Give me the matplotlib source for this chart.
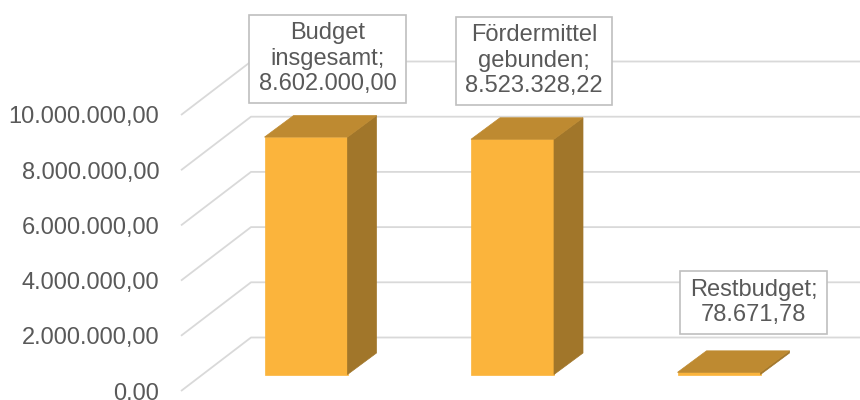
import matplotlib
matplotlib.use("Agg")
import matplotlib.pyplot as plt
from matplotlib.patches import Polygon, Rectangle
from matplotlib.transforms import IdentityTransform

# ---- data ----
categories = ["Budget\ninsgesamt", "Fördermittel\ngebunden", "Restbudget"]
values = [8602000.00, 8523328.22, 78671.78]
value_labels = ["8.602.000,00", "8.523.328,22", "78.671,78"]
yticks = [0, 2000000, 4000000, 6000000, 8000000, 10000000]
ytick_labels = ["0.00", "2.000.000,00", "4.000.000,00", "6.000.000,00",
                "8.000.000,00", "10.000.000,00"]

# ---- style / layout ----
FRONT = "#FBB43C"
TOP = "#BE8A31"
SIDE = "#A1762A"
GRID = "#D9D9D9"
TXT = "#595959"
FONT = ["Liberation Sans", "DejaVu Sans"]
FS = 17

W, H = 860, 400
PX = 1e6 / 27.6            # value units per pixel (vertical)
X0 = 181                   # front-left of plot floor (pixels)
Y0 = 391                   # pixel row of value 0 at floor front
FLOOR_DX, FLOOR_DY = 70, 53.5
BAR_W = 83
BAR_DX, BAR_DY = 29, 21.5
BAR_B0 = 16.5              # bar front bottom, pixels above floor front
centers = [306, 512.5, 719]
label_dx = [21.5, 21.5, 34.5]
PADX, PADY = 9.5, 7.5
label_gap = [13 + PADY, 13 + PADY, 17 + PADY]

fig = plt.figure(figsize=(W / 100, H / 100), dpi=100)
ax = fig.add_axes([X0 / W, 0, (W - X0) / W, 1])
ax.set_xlim(X0, W)
ax.set_ylim((Y0 - H) * PX, Y0 * PX)
for s in ax.spines.values():
    s.set_visible(False)
ax.set_xticks([])
ax.set_yticks(yticks, ytick_labels)
ax.tick_params(axis="y", length=0, pad=15.5)
for lab in ax.get_yticklabels():
    lab.set_fontfamily(FONT)
    lab.set_fontsize(FS)
    lab.set_color(TXT)

# gridlines: diagonal on the side wall, then horizontal on back wall
for t in yticks:
    ax.plot([X0, X0 + FLOOR_DX, W], [t, t + FLOOR_DY * PX, t + FLOOR_DY * PX],
            color=GRID, lw=1.3, zorder=1, solid_capstyle="butt", clip_on=False)

texts = []
for i, (c, v) in enumerate(zip(centers, values)):
    x0, x1 = c - BAR_W / 2, c + BAR_W / 2
    b = BAR_B0 * PX
    top = b + v
    dy = BAR_DY * PX
    front = Polygon([(x0, b), (x1, b), (x1, top), (x0, top)], closed=True,
                    facecolor=FRONT, edgecolor=FRONT, lw=0.5, zorder=3)
    side = Polygon([(x1, b), (x1 + BAR_DX, b + dy), (x1 + BAR_DX, top + dy), (x1, top)],
                   closed=True, facecolor=SIDE, edgecolor=SIDE, lw=0.5, zorder=3)
    topf = Polygon([(x0, top), (x1, top), (x1 + BAR_DX, top + dy), (x0 + BAR_DX, top + dy)],
                   closed=True, facecolor=TOP, edgecolor=TOP, lw=0.5, zorder=4)
    for p in (front, side, topf):
        ax.add_patch(p)
    txt = categories[i] + ";\n" + value_labels[i]
    t = ax.text(c + label_dx[i], top + dy + label_gap[i] * PX, txt, ha="center", va="bottom",
                multialignment="center", fontsize=FS, color=TXT, fontfamily=FONT,
                zorder=6)
    texts.append(t)

fig.canvas.draw()
r = fig.canvas.get_renderer()
for t in texts:
    bb = t.get_window_extent(r)
    rect = Rectangle((bb.x0 - PADX, bb.y0 - PADY), bb.width + 2 * PADX, bb.height + 2 * PADY,
                     transform=IdentityTransform(), facecolor="white", edgecolor="#BFBFBF",
                     lw=1.2, zorder=5)
    fig.add_artist(rect)
    t.remove()
    fig.text(bb.x0 + bb.width / 2, bb.y0, t.get_text(), transform=IdentityTransform(),
             ha="center", va="bottom", multialignment="center", fontsize=FS, color=TXT,
             fontfamily=FONT, zorder=7)

fig.savefig("out.png", dpi=100, facecolor="white")
